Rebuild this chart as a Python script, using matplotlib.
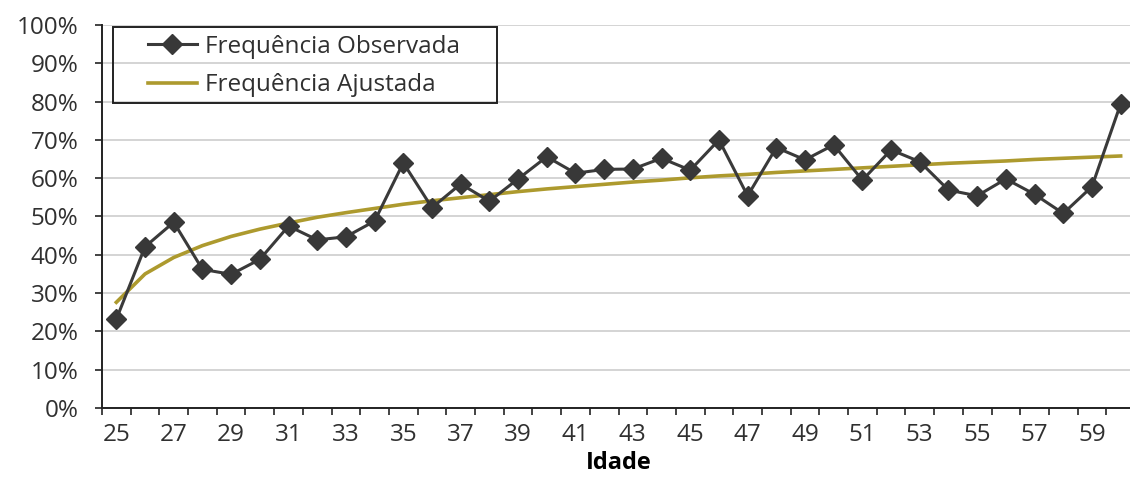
import matplotlib
matplotlib.use("Agg")
import matplotlib.pyplot as plt
from matplotlib.patches import Rectangle
from matplotlib.ticker import FixedLocator, PercentFormatter

plt.rcParams['font.family'] = ['Open Sans', 'DejaVu Sans']

# --- data ---
idade = list(range(25, 61))
freq_observada = [23.2, 42.1, 48.5, 36.2, 34.9, 38.8, 47.5, 43.9, 44.7, 48.8,
                  64.0, 52.3, 58.5, 54.0, 59.8, 65.6, 61.3, 62.3, 62.4, 65.2,
                  62.1, 70.0, 55.4, 68.0, 64.8, 68.7, 59.5, 67.4, 64.3, 56.9,
                  55.4, 59.8, 55.8, 50.8, 57.8, 79.4]
freq_ajustada = [27.6, 35.0, 39.3, 42.4, 44.8, 46.7, 48.3, 49.8, 51.0, 52.1,
                 53.2, 54.1, 54.9, 55.7, 56.5, 57.2, 57.8, 58.4, 59.0, 59.5,
                 60.1, 60.6, 61.0, 61.5, 61.9, 62.3, 62.7, 63.1, 63.5, 63.9,
                 64.2, 64.5, 64.9, 65.2, 65.5, 65.8]
y_ticks = list(range(0, 101, 10))
x_labels = list(range(25, 60, 2))

W, H = 1130, 479
fig = plt.figure(figsize=(W / 100, H / 100), dpi=100)
ax = fig.add_axes([102 / W, 1 - 408 / H, 1033 / W, 383 / H])

ax.plot(idade, freq_observada, color='#3a3a3a', lw=2.2, marker='D',
        markersize=10, markerfacecolor='#383838', markeredgecolor='#383838',
        label='Frequência Observada', zorder=4)
ax.plot(idade, freq_ajustada, color='#ad9a2e', lw=2.6,
        label='Frequência Ajustada', zorder=3)

ax.set_xlim(idade[0] - 0.5, idade[-1] + 0.5)
ax.set_ylim(0, 100)

ax.set_yticks(y_ticks)
ax.yaxis.set_major_formatter(PercentFormatter(decimals=0))
ax.grid(axis='y', color='#d4d4d4', lw=1.4)
ax.set_axisbelow(True)

# category axis: ticks at the boundaries, labels on every second age
ax.set_xticks(x_labels)
ax.xaxis.set_minor_locator(FixedLocator([a - 0.5 for a in idade] + [idade[-1] + 0.5]))
ax.tick_params(axis='x', which='major', length=0, pad=11, labelsize=17.5, colors='#303030')
ax.tick_params(axis='x', which='minor', length=5, width=1.2, direction='out', color='#222222')
ax.tick_params(axis='y', length=5, width=1.2, direction='out', pad=12,
               labelsize=17.5, colors='#303030')
ax.tick_params(axis='y', color='#222222')

for s in ['top', 'right']:
    ax.spines[s].set_visible(False)
for s in ['left', 'bottom']:
    ax.spines[s].set_color('#222222')
    ax.spines[s].set_linewidth(1.4)

ax.set_xlabel('Idade', fontsize=17, fontweight='bold', labelpad=3)

# legend, with a plain square frame
leg = fig.legend(loc='center left', bbox_to_anchor=(148 / W, 1 - 66 / H),
                 frameon=False, fontsize=17.5, handlelength=2.0,
                 handletextpad=0.35, labelspacing=0.58, borderpad=0,
                 borderaxespad=0)
for t in leg.get_texts():
    t.set_color('#303030')
fig.add_artist(Rectangle((113 / W, 1 - 103 / H), 384 / W, 76 / H,
                         transform=fig.transFigure, fill=False,
                         edgecolor='#222222', lw=1.4))

fig.savefig('out.png', dpi=100)
